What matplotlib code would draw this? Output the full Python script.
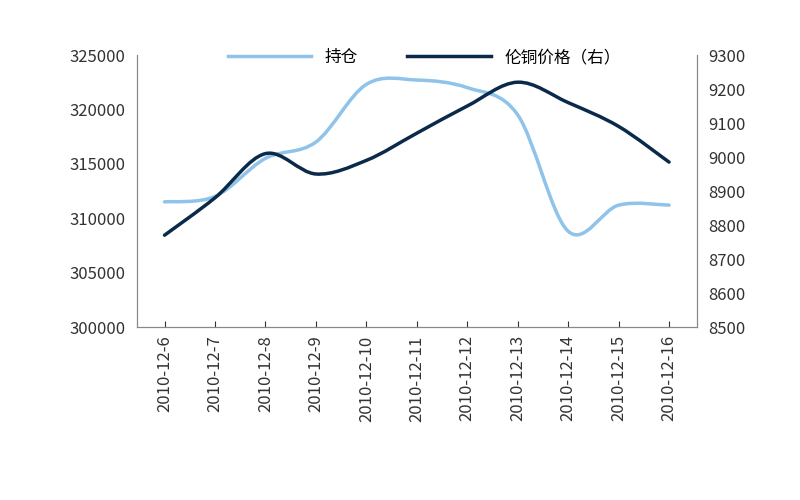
import matplotlib
matplotlib.use("Agg")
import matplotlib.pyplot as plt
from matplotlib.path import Path
from matplotlib.patches import PathPatch
from matplotlib.lines import Line2D
import numpy as np

plt.rcParams['font.family'] = ['Noto Sans CJK SC', 'DejaVu Sans']

dates = ["2010-12-6","2010-12-7","2010-12-8","2010-12-9","2010-12-10","2010-12-11",
         "2010-12-12","2010-12-13","2010-12-14","2010-12-15","2010-12-16"]
holdings = [311500, 312000, 315500, 317000, 322300, 322700, 322000, 319500, 308800, 311200, 311200]
lme_copper = [8770, 8880, 9010, 8950, 8990, 9070, 9150, 9220, 9160, 9090, 8985]

light = "#8fc3ea"
dark = "#0b2a4a"

def smooth_patch(xs, ys, color, lw):
    # Catmull-Rom to Bezier (Excel-style smoothed line)
    pts = np.column_stack([xs, ys]).astype(float)
    verts = [tuple(pts[0])]
    codes = [Path.MOVETO]
    t = 1/6
    for i in range(len(pts)-1):
        p0 = pts[i-1] if i > 0 else pts[i]
        p1, p2 = pts[i], pts[i+1]
        p3 = pts[i+2] if i+2 < len(pts) else pts[i+1]
        c1 = p1 + (p2 - p0) * t
        c2 = p2 - (p3 - p1) * t
        verts += [tuple(c1), tuple(c2), tuple(p2)]
        codes += [Path.CURVE4]*3
    return PathPatch(Path(verts, codes), fill=False, edgecolor=color, lw=lw, capstyle='round')

fig = plt.figure(figsize=(8, 5), dpi=100)
ax = fig.add_axes([0.171, 0.346, 0.70, 0.544])
ax2 = ax.twinx()
x = np.arange(len(dates))
ax.add_patch(smooth_patch(x, holdings, light, 2.5))
ax2.add_patch(smooth_patch(x, lme_copper, dark, 2.5))
ax.set_xlim(-0.55, len(dates)-0.45)
ax.set_ylim(300000, 325000)
ax2.set_ylim(8500, 9300)
ax.set_yticks(range(300000, 325001, 5000))
ax2.set_yticks(range(8500, 9301, 100))
ax.set_xticks(x)
ax.set_xticklabels(dates, rotation=90, fontsize=12, color="#333333")
for a in (ax, ax2):
    a.tick_params(labelsize=12, colors="#333333", length=0)
    a.spines['top'].set_visible(False)
    for s in ('left', 'right', 'bottom'):
        a.spines[s].set_color("#888888")
ax.tick_params(axis='x', length=4, direction='in', pad=6)
ax.tick_params(axis='y', pad=8)
ax2.tick_params(axis='y', pad=8)

handles = [Line2D([], [], color=light, lw=2.5), Line2D([], [], color=dark, lw=2.5)]
fig.legend(handles, ["持仓", "伦铜价格（右）"], loc='center', bbox_to_anchor=(0.53, 0.885),
           ncol=2, frameon=False, fontsize=12, handlelength=5, columnspacing=3)
fig.savefig("out.png")
